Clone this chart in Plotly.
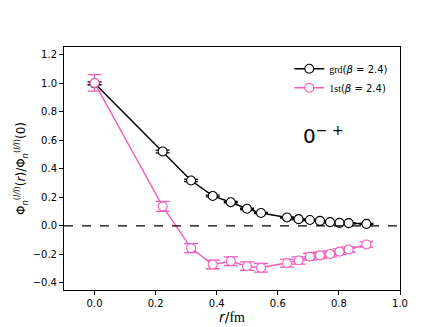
import plotly.graph_objects as go

r = [0.0, 0.223, 0.316, 0.387, 0.446, 0.499, 0.545, 0.630, 0.668, 0.705, 0.738, 0.771, 0.802, 0.832, 0.890]
grd = [1.0, 0.522, 0.318, 0.21, 0.166, 0.12, 0.09, 0.059, 0.047, 0.041, 0.035, 0.026, 0.021, 0.019, 0.014]
grd_err = [0.01, 0.01, 0.008, 0.006, 0.005, 0.005, 0.004, 0.004, 0.004, 0.004, 0.004, 0.004, 0.004, 0.004, 0.004]
first = [1.003, 0.137, -0.156, -0.271, -0.248, -0.283, -0.294, -0.262, -0.243, -0.216, -0.207, -0.197, -0.181, -0.166, -0.131]
first_err = [0.058, 0.035, 0.032, 0.03, 0.03, 0.03, 0.03, 0.028, 0.026, 0.024, 0.022, 0.021, 0.02, 0.019, 0.018]

PINK = "#f05cbc"
FONT = "DejaVu Sans"
SERIF = "Liberation Serif"

fig = go.Figure()
fig.add_shape(type="line", xref="paper", x0=0, x1=1, yref="y", y0=0, y1=0,
              line=dict(color="black", width=1.3, dash="dash"))
fig.add_trace(go.Scatter(
    x=r, y=grd, mode="lines+markers",
    name=f"<span style='font-family:{SERIF}'>grd</span>(<i>β</i> = 2.4)",
    line=dict(color="black", width=1.5),
    marker=dict(symbol="circle", size=9, color="white", line=dict(color="black", width=1.1)),
    error_y=dict(type="data", array=grd_err, visible=True, color="black", thickness=1.3, width=7),
))
fig.add_trace(go.Scatter(
    x=r, y=first, mode="lines+markers",
    name=f"<span style='font-family:{SERIF}'>1st</span>(<i>β</i> = 2.4)",
    line=dict(color=PINK, width=1.4),
    marker=dict(symbol="circle", size=9, color="white", line=dict(color=PINK, width=1.1)),
    error_y=dict(type="data", array=first_err, visible=True, color=PINK, thickness=1.3, width=7),
))

fig.add_annotation(x=0.84, y=0.70, xref="paper", yref="paper",
                   text="0<sup>− +</sup>", showarrow=False,
                   font=dict(family=FONT, size=20, color="black"))

axis_common = dict(showline=True, linecolor="black", linewidth=1, mirror=True,
                   ticks="outside", ticklen=4, tickcolor="black", showgrid=False,
                   zeroline=False, tickfont=dict(family=FONT, size=10, color="black"))

fig.update_layout(
    width=436, height=327,
    margin=dict(l=54, r=44, t=39, b=41),
    paper_bgcolor="white", plot_bgcolor="white",
    font=dict(family=FONT, color="black"),
    showlegend=True,
    legend=dict(x=0.98, y=0.97, xanchor="right", yanchor="top",
                bgcolor="rgba(0,0,0,0)", font=dict(family=FONT, size=10),
                itemwidth=30, tracegroupgap=0),
    xaxis=dict(range=[-0.1, 1.0], tickvals=[0.0, 0.2, 0.4, 0.6, 0.8, 1.0],
               ticktext=["0.0", "0.2", "0.4", "0.6", "0.8", "1.0"],
               title=dict(text=f"<i>r</i>/<span style='font-family:{SERIF}'>fm</span>",
                          font=dict(family=FONT, size=14), standoff=4),
               **axis_common),
    yaxis=dict(range=[-0.45, 1.255], tickvals=[-0.4, -0.2, 0.0, 0.2, 0.4, 0.6, 0.8, 1.0, 1.2],
               ticktext=["−0.4", "−0.2", "0.0", "0.2", "0.4", "0.6", "0.8", "1.0", "1.2"],
               title=dict(text="Φ<sub><i>n</i></sub><sup>(<i>l/l</i>)</sup>(<i>r</i>)/Φ<sub><i>n</i></sub><sup>(<i>l/l</i>)</sup>(0)",
                          font=dict(family=FONT, size=12), standoff=4),
               **axis_common),
)

fig.write_html("out.html")
